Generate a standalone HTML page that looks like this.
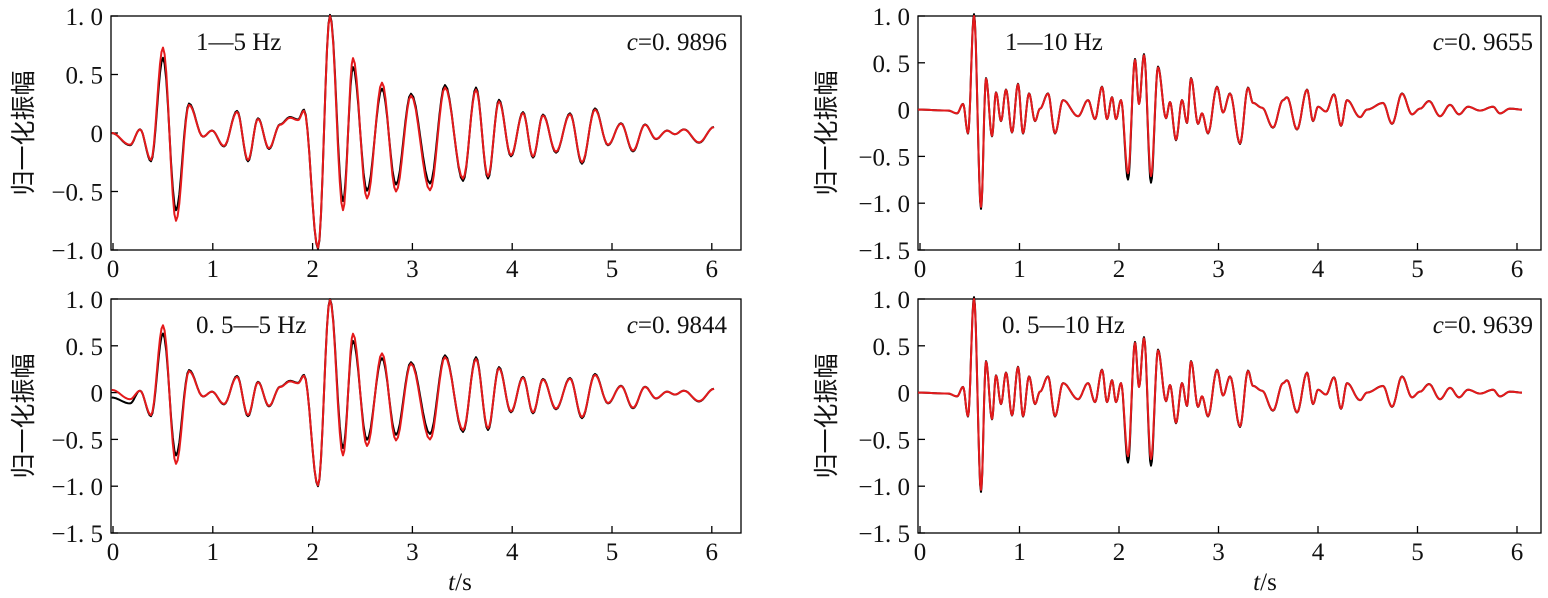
<!DOCTYPE html>
<html><head><meta charset="utf-8"><style>
body{margin:0;background:#fff}
svg{display:block}
text{font-family:"Liberation Serif","Noto Serif CJK SC",serif;font-size:25px;fill:#111}
.cj{font-family:"Liberation Sans","Noto Sans CJK SC",sans-serif;font-size:25px}
</style></head><body>
<svg id="s" width="1548" height="598" xmlns="http://www.w3.org/2000/svg">
<g id="g"></g>
<text class="cj" transform="translate(32,133) rotate(-90)" text-anchor="middle">归一化振幅</text>
<text class="cj" transform="translate(32,416) rotate(-90)" text-anchor="middle">归一化振幅</text>
<text class="cj" transform="translate(835,133) rotate(-90)" text-anchor="middle">归一化振幅</text>
<text class="cj" transform="translate(835,416) rotate(-90)" text-anchor="middle">归一化振幅</text>
<text x="196" y="50">1—5 Hz</text>
<text x="727" y="50" text-anchor="end"><tspan font-style="italic">c</tspan>=0. 9896</text>
<text x="196" y="333">0. 5—5 Hz</text>
<text x="727" y="333" text-anchor="end"><tspan font-style="italic">c</tspan>=0. 9844</text>
<text x="1005" y="50">1—10 Hz</text>
<text x="1533" y="50" text-anchor="end"><tspan font-style="italic">c</tspan>=0. 9655</text>
<text x="1002" y="333">0. 5—10 Hz</text>
<text x="1533" y="333" text-anchor="end"><tspan font-style="italic">c</tspan>=0. 9639</text>
<text x="460" y="590" text-anchor="middle"><tspan font-style="italic">t</tspan>/s</text>
<text x="1265" y="590" text-anchor="middle"><tspan font-style="italic">t</tspan>/s</text>
</svg>
<script>
var L=[[111.7,0],[130,-0.1],[140,0.03],[151,-0.23],[163,0.73],[176,-0.75],[189,0.24],[203,-0.03],[212,0.02],[224,-0.11],[237,0.18],[248,-0.23],[258,0.12],[269,-0.13],[280,0.07],[290,0.13],[298,0.11],[304,0.19],[318,-0.98],[330,1.0],[343,-0.66],[353,0.64],[367,-0.56],[382,0.43],[396,-0.5],[411,0.32],[430,-0.49],[445,0.39],[463,-0.39],[476,0.37],[488,-0.37],[499,0.27],[511,-0.19],[523,0.17],[533,-0.2],[543,0.15],[556,-0.16],[570,0.16],[582,-0.25],[595,0.2],[608,-0.1],[621,0.08],[633,-0.15],[645,0.07],[656,-0.05],[667,0.02],[675,-0.01],[684,0.03],[699,-0.08],[714,0.05]];
var R=[[918,0],[948,-0.01],[957,-0.04],[963,0.06],[968,-0.25],[974,1.0],[981,-1.04],[986,0.33],[992,-0.28],[996,0.18],[1001,-0.12],[1006,0.21],[1012,-0.24],[1018,0.27],[1023,-0.25],[1029,0.17],[1035,-0.12],[1040,0.01],[1048,0.17],[1055,-0.25],[1063,0.1],[1078,-0.07],[1088,0.1],[1095,-0.1],[1102,0.24],[1107,-0.1],[1112,0.13],[1116,-0.1],[1121,0.1],[1128,-0.68],[1135,0.53],[1139,0.06],[1144,0.58],[1151,-0.71],[1158,0.45],[1166,-0.09],[1170,0.08],[1176,-0.32],[1182,0.1],[1187,-0.14],[1191,0.33],[1198,-0.15],[1202,-0.04],[1208,-0.25],[1217,0.24],[1223,-0.03],[1230,0.17],[1240,-0.36],[1248,0.23],[1253,0.07],[1262,0.02],[1273,-0.19],[1283,0.1],[1287,0.13],[1297,-0.21],[1307,0.21],[1313,-0.12],[1318,0.03],[1326,-0.02],[1334,0.16],[1341,-0.17],[1347,0.1],[1360,-0.08],[1367,0],[1383,0.07],[1392,-0.15],[1402,0.17],[1412,-0.05],[1420,0.01],[1429,0.09],[1440,-0.07],[1450,0.05],[1459,-0.05],[1468,0.03],[1480,-0.01],[1493,0.03],[1500,-0.04],[1510,0.01],[1522,0]];
var g=document.getElementById('g'),h='';
function path(pts,y0,sc,f,col){var d='';for(var i=0;i<pts.length-1;i++){var a=pts[i],b=pts[i+1];for(var k=0;k<=8;k++){if(i>0&&k==0)continue;var u=k/8,x=a[0]+(b[0]-a[0])*u;var va=f(a[1],i),vb=f(b[1],i+1);var v=va+(vb-va)*(1-Math.cos(Math.PI*u))/2;d+=(d?'L':'M')+x.toFixed(1)+','+(y0-v*sc).toFixed(1);}}
return '<path d="'+d+'" fill="none" stroke="'+col+'" stroke-width="2" stroke-linejoin="round"/>';}
var blk=function(v){var a=Math.abs(v);return a>0.9?v*1.01:(a>0.4?v*0.88:v*1.05);};
var blkR=function(v){return v<-0.6&&v>-0.8?v*1.1:v*1.02;};
var id=function(v){return v;};
function axes(x0,x1,top,bot,pxs,yt){var s='<rect x="'+x0+'" y="'+top+'" width="'+(x1-x0)+'" height="'+(bot-top)+'" fill="none" stroke="#000" stroke-width="1.3"/>';
for(var i=0;i<=6;i++){var x=x0+2+i*pxs;s+='<line x1="'+x+'" y1="'+bot+'" x2="'+x+'" y2="'+(bot-7)+'" stroke="#000" stroke-width="1.3"/><text x="'+x+'" y="'+(bot+27)+'" text-anchor="middle">'+i+'</text>';}
for(var j=0;j<yt.length;j++){var y=yt[j][0];s+='<line x1="'+x0+'" y1="'+y+'" x2="'+(x0+7)+'" y2="'+y+'" stroke="#000" stroke-width="1.3"/><text x="'+(x0-8)+'" y="'+(y+9)+'" text-anchor="end">'+yt[j][1]+'</text>';}
return s;}
var ytA=[[16,'1. 0'],[74.5,'0. 5'],[133,'0'],[191.5,'−0. 5'],[250,'−1. 0']];
function ytB(o){var a=[],l=['1. 0','0. 5','0','−0. 5','−1. 0','−1. 5'];for(var i=0;i<6;i++)a.push([o+i*46.8,l[i]]);return a;}
h+=axes(111,741,16,250,99.8,ytA);
h+=axes(111,741,299,533,99.8,ytB(299));
h+=axes(918,1541,16,250,99.5,ytB(16));
h+=axes(918,1541,299,533,99.5,ytB(299));
var L2=L.map(function(p,i){return i<2?[p[0],p[1]+0.04]:p;});
var L2b=L.map(function(p,i){return i<1?[p[0],-0.04]:p;});
h+=path(L,133,117,blk,'#000');h+=path(L,133,117,id,'#e41a1c');
h+=path(L2b,393.6,93.6,blk,'#000');h+=path(L2,393.6,93.6,id,'#e41a1c');
h+=path(R,109.6,93.6,blkR,'#000');h+=path(R,109.6,93.6,id,'#e41a1c');
h+=path(R,392.6,93.6,blkR,'#000');h+=path(R,392.6,93.6,id,'#e41a1c');
g.innerHTML=h;
</script>
</body></html>
